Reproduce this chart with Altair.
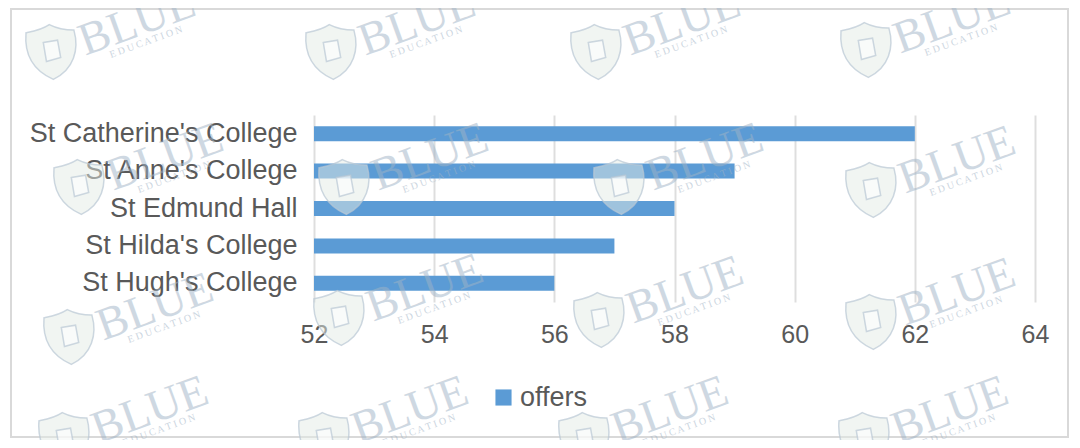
import altair as alt
import pandas as pd

colleges = ["St Catherine's College", "St Anne's College", "St Edmund Hall", "St Hilda's College", "St Hugh's College"]
offers = [62, 59, 58, 57, 56]
ticks = [52, 54, 56, 58, 60, 62, 64]

# watermark anchor points in page pixels (shield centre)
shield_x = [52, 332, 597, 867, 80, 345, 620, 872, 70, 340, 600, 872, 65, 325, 585, 865]
shield_y = [52, 52, 52, 50, 187, 187, 187, 190, 337, 318, 320, 322, 440, 440, 440, 440]

OX, OY = 314, 115
W, H = 721, 187
df = pd.DataFrame({"college": colleges, "offers": offers, "series": ["offers"] * 5})
wm = pd.DataFrame({"sx": [x - OX for x in shield_x], "sy": [y - OY for y in shield_y]})
wm["tx"] = wm.sx + 85
wm["ty"] = wm.sy - 30
wm["ex"] = wm.sx + 94
wm["ey"] = wm.sy - 10

TEXT = "#595959"
FONT = "Liberation Sans"
BLUE = "#5b9bd5"

frame = alt.Chart(df).mark_rect(fill="transparent", stroke="#d9d9d9", strokeWidth=2).encode(
    x=alt.value(11 - OX), x2=alt.value(1068 - OX), y=alt.value(9 - OY), y2=alt.value(437 - OY))

bars = alt.Chart(df).mark_bar(size=15, clip=True).encode(
    x=alt.X("offers:Q", scale=alt.Scale(domain=[52, 64], nice=False, zero=False),
            axis=alt.Axis(values=ticks, title=None, format="d", domain=False, ticks=False, labelFlush=False,
                          labelFontSize=25, labelColor=TEXT, labelFont=FONT, labelPadding=20,
                          grid=True, gridColor="#dedede", gridWidth=2)),
    y=alt.Y("college:N", sort=colleges, scale=alt.Scale(paddingInner=0, paddingOuter=0),
            axis=alt.Axis(title=None, domain=False, ticks=False, grid=False,
                          labelFontSize=27, labelColor=TEXT, labelFont=FONT, labelPadding=17, labelLimit=300)),
    color=alt.Color("series:N", scale=alt.Scale(range=[BLUE]),
                    legend=alt.Legend(title=None, orient="none", legendX=176, legendY=269,
                                      symbolType="square", symbolSize=260, symbolStrokeWidth=0,
                                      labelFontSize=27, labelColor=TEXT, labelFont=FONT, labelOffset=3)),
)

px = alt.X("sx:Q", scale=None, axis=None)
py = alt.Y("sy:Q", scale=None, axis=None)
SHIELD = "M-0.1,-1 C-0.4,-0.8 -0.7,-0.75 -0.95,-0.7 C-1,-0.1 -0.85,0.6 0.05,1 C0.8,0.65 1,-0.1 0.8,-0.8 C0.5,-0.8 0.2,-0.85 -0.1,-1 Z"
BOOK = "M-0.55,-0.6 L0.35,-0.75 L0.55,0.35 L-0.35,0.6 Z"
shields = alt.Chart(wm).mark_point(shape=SHIELD, size=3000, filled=True, fill="#e3ece5", fillOpacity=0.5,
                                   stroke="#b9c8d4", strokeWidth=1.5, strokeOpacity=0.7).encode(x=px, y=py)
books = alt.Chart(wm).mark_point(shape=BOOK, size=1000, filled=True, fill="white", fillOpacity=0.6,
                                 stroke="#b9c8d4", strokeWidth=1.5, strokeOpacity=0.7).encode(x=px, y=py)
blue = alt.Chart(wm).mark_text(text="BLUE", font="Liberation Serif", fontSize=46, angle=340,
                               color="#9fb3c6", opacity=0.5).encode(
    x=alt.X("tx:Q", scale=None, axis=None), y=alt.Y("ty:Q", scale=None, axis=None))
edu = alt.Chart(wm).mark_text(text="E  D  U  C  A  T  I  O  N", font="Liberation Serif", fontSize=10, angle=340,
                              color="#9fb3c6", opacity=0.55).encode(
    x=alt.X("ex:Q", scale=None, axis=None), y=alt.Y("ey:Q", scale=None, axis=None))

chart = (
    alt.layer(frame, bars, shields, books, blue, edu)
    .resolve_scale(x="independent", y="independent", color="independent")
    .resolve_axis(x="independent", y="independent")
    .properties(width=W, height=H,
                autosize=alt.AutoSizeParams(type="none"),
                padding={"left": OX - 8, "top": OY - 8, "right": 1080 - OX - W - 8, "bottom": 448 - OY - H - 8})
    .configure_view(stroke=None)
)
chart.save("out.html", embed_options={"renderer": "svg", "actions": False})
